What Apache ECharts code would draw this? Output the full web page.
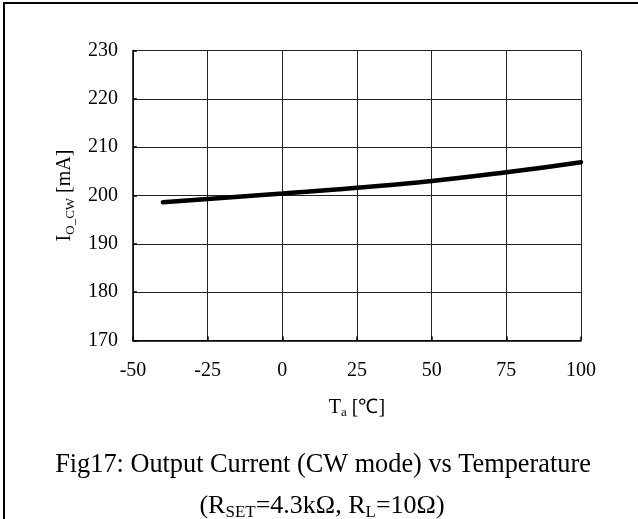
<!DOCTYPE html>
<html>
<head>
<meta charset="utf-8">
<script src="https://cdn.jsdelivr.net/npm/echarts@6/dist/echarts.min.js"></script>
<style>
html,body{margin:0;padding:0;background:#fff;}
#c{width:638px;height:519px;}
</style>
</head>
<body>
<div id="c"></div>
<script>
const temperatures = [-40, -25, 0, 25, 50, 75, 100];
const currents = [198.6, 199.3, 200.4, 201.6, 203.0, 204.8, 206.9];
const xTicks = [-50, -25, 0, 25, 50, 75, 100];
const yTicks = [170, 180, 190, 200, 210, 220, 230];

const FONT = '"Liberation Serif","Times New Roman",serif';
const chart = echarts.init(document.getElementById('c'), null, {renderer: 'canvas'});
const seriesData = temperatures.map((t, i) => [t, currents[i]]);

chart.setOption({
  animation: false,
  backgroundColor: '#fff',
  grid: {left: 133, right: 57, top: 50.5, bottom: 178.5, containLabel: false},
  xAxis: {
    type: 'value',
    min: xTicks[0], max: xTicks[xTicks.length - 1], interval: 25,
    axisLine: {show: true, onZero: false, lineStyle: {color: '#000', width: 1.5}},
    axisTick: {show: true, inside: true, length: 4, lineStyle: {color: '#000', width: 1.5}},
    axisLabel: {color: '#000', fontFamily: FONT, fontSize: 20, margin: 20},
    splitLine: {show: true, lineStyle: {color: '#222', width: 1}},
    name: '{n|T}{s|a}{n| [℃]}',
    nameLocation: 'middle',
    nameGap: 55,
    nameTextStyle: {
      color: '#000', fontFamily: FONT, fontSize: 20,
      rich: {
        n: {fontFamily: FONT, fontSize: 20, color: '#000', lineHeight: 24, verticalAlign: 'middle'},
        s: {fontFamily: FONT, fontSize: 13, color: '#000', lineHeight: 13, verticalAlign: 'bottom'}
      }
    }
  },
  yAxis: {
    type: 'value',
    min: yTicks[0], max: yTicks[yTicks.length - 1], interval: 10,
    axisLine: {show: true, onZero: false, lineStyle: {color: '#000', width: 1.5}},
    axisTick: {show: true, inside: true, length: 4, lineStyle: {color: '#000', width: 1.5}},
    axisLabel: {color: '#000', fontFamily: FONT, fontSize: 20, margin: 15},
    splitLine: {show: true, lineStyle: {color: '#222', width: 1}},
    name: '{n|I}{s|O_CW}{n| [mA]}',
    nameLocation: 'middle',
    nameGap: 56,
    nameRotate: 90,
    nameTextStyle: {
      color: '#000', fontFamily: FONT, fontSize: 20,
      rich: {
        n: {fontFamily: FONT, fontSize: 20, color: '#000', lineHeight: 24, verticalAlign: 'middle'},
        s: {fontFamily: FONT, fontSize: 13, color: '#000', lineHeight: 13, verticalAlign: 'bottom'}
      }
    }
  },
  series: [{
    type: 'line',
    data: seriesData,
    smooth: true,
    showSymbol: false,
    symbol: 'none',
    lineStyle: {color: '#000', width: 4.5, cap: 'round'},
    z: 5
  }],
  graphic: [
    {type: 'rect', shape: {x: 3, y: 2, width: 2, height: 517}, style: {fill: '#000'}, silent: true},
    {type: 'rect', shape: {x: 3, y: 2, width: 635, height: 2}, style: {fill: '#000'}, silent: true},
    {
      type: 'text', x: 323, y: 465, silent: true,
      style: {
        text: 'Fig17: Output Current (CW mode) vs Temperature',
        font: '26.3px ' + FONT, fill: '#000', align: 'center', verticalAlign: 'middle'
      }
    },
    {
      type: 'text', x: 322, y: 506, silent: true,
      style: {
        text: '{n|(R}{s|SET}{n|=4.3kΩ, R}{s|L}{n|=10Ω)}',
        align: 'center', verticalAlign: 'middle', fill: '#000',
        rich: {
          n: {fontFamily: FONT, fontSize: 26, fill: '#000', lineHeight: 30, verticalAlign: 'middle'},
          s: {fontFamily: FONT, fontSize: 17, fill: '#000', lineHeight: 16, verticalAlign: 'bottom'}
        }
      }
    }
  ]
});
</script>
</body>
</html>
